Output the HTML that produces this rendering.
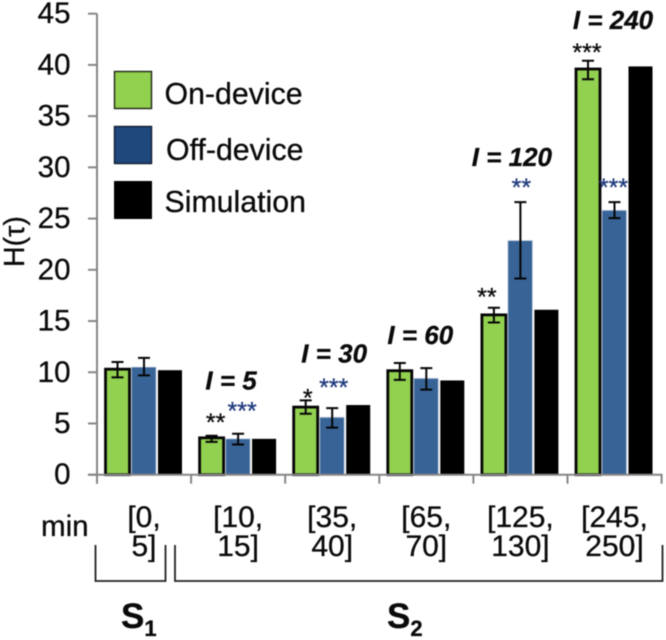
<!DOCTYPE html>
<html lang="en">
<head>
<meta charset="utf-8">
<title>H(τ) bar chart</title>
<style>
html,body{margin:0;padding:0;background:#fff;width:666px;height:640px;overflow:hidden}
svg{display:block;filter:blur(.45px)}
text{font-family:"Liberation Sans",Arial,sans-serif;fill:#0a0a0a;stroke:#0a0a0a;stroke-width:.3px}
</style>
</head>
<body>
<svg id="chart" xmlns="http://www.w3.org/2000/svg" width="666" height="640" viewBox="0 0 666 640">
  <rect width="666" height="640" fill="#fff"/>
  <text transform="translate(24,267) rotate(-90)" font-size="28.5">H(τ)</text>
  <text x="41" y="536" font-size="29.5">min</text>

  <g>
    <rect x="114.5" y="71.5" width="37" height="37" fill="#92d050" stroke="#1c2612" stroke-width="1.4"/>
    <text x="164.5" y="104" font-size="30.3">On-device</text>
    <rect x="114.5" y="126.5" width="37" height="37" fill="#1f497d" stroke="#0e1c30" stroke-width="1.4"/>
    <text x="166" y="160" font-size="30.3">Off-device</text>
    <text x="164.5" y="212" font-size="30.3">Simulation</text>
    <rect x="114" y="181" width="38" height="38" fill="#000"/>
  </g>

  <g>
    <path d="M95.5 545V581H165.5V545" fill="none" stroke="#222" stroke-width="1.8"/>
    <text x="121" y="628" font-size="35" font-weight="bold">S<tspan font-size="22" dy="8">1</tspan></text>
  </g>
  <g>
    <path d="M175 545V581H662.5V545" fill="none" stroke="#222" stroke-width="1.8"/>
    <text x="387" y="628" font-size="35" font-weight="bold">S<tspan font-size="22" dy="8">2</tspan></text>
  </g>
  <g id="plot"></g>
</svg>
<script>
const categoryLine1 = ['[0,', '[10,', '[35,', '[65,', '[125,', '[245,'];
const categoryLine2 = ['5]', '15]', '40]', '70]', '130]', '250]'];
const intervalLabels = ['', 'I = 5', 'I = 30', 'I = 60', 'I = 120', 'I = 240'];
const yTickLabels = [0, 5, 10, 15, 20, 25, 30, 35, 40, 45];
const onDevice = [10.3, 3.6, 6.6, 10.15, 15.6, 39.6];
const onDeviceHigh = [11.0, 3.8, 7.25, 10.9, 16.3, 40.4];
const onDeviceLow = [9.5, 3.2, 5.95, 9.25, 14.85, 38.6];
const offDevice = [10.5, 3.5, 5.6, 9.4, 22.85, 25.8];
const offDeviceHigh = [11.4, 4.0, 6.5, 10.4, 26.6, 26.6];
const offDeviceLow = [9.7, 2.95, 4.6, 8.3, 19.15, 25.05];
const simulation = [10.2, 3.5, 6.8, 9.2, 16.1, 39.85];
const onDeviceStars = ['', '**', '*', '', '**', '***'];
const offDeviceStars = ['', '***', '***', '', '**', '***'];

const NS = 'http://www.w3.org/2000/svg';
const plot = document.getElementById('plot');
const axisLeft = 97, groupWidth = 94.1, y0 = 474.7, unit = 10.245;
const yScale = v => y0 - v * unit;
const groupX = i => axisLeft + i * groupWidth;

function make(tag, attrs, text) {
  const el = document.createElementNS(NS, tag);
  for (const k in attrs) el.setAttribute(k, attrs[k]);
  if (text !== undefined) el.textContent = text;
  plot.appendChild(el);
  return el;
}

function drawError(x, hi, lo, group, series) {
  const line = make('path', {
    d: `M${x - 6} ${yScale(hi)}H${x + 6}M${x} ${yScale(hi)}V${yScale(lo)}M${x - 6} ${yScale(lo)}H${x + 6}`,
    fill: 'none', stroke: '#050505', 'stroke-width': 2
  });
  
  
}

onDevice.forEach((_, i) => {
  const gx = groupX(i);
  const green = make('rect', {
    x: gx + 8.5, y: yScale(onDevice[i]), width: 24, height: y0 - yScale(onDevice[i]),
    fill: '#92d050', stroke: '#050505', 'stroke-width': 2.8
  });
  
  

  const blue = make('rect', {
    x: gx + 34.5, y: yScale(offDevice[i]), width: 24.5, height: y0 - yScale(offDevice[i]),
    fill: '#386397', stroke: '#b9c8da', 'stroke-width': 0.8
  });
  
  

  const black = make('rect', {
    x: gx + 61, y: yScale(simulation[i]), width: 24, height: y0 - yScale(simulation[i]),
    fill: '#000'
  });
  
  

  drawError(gx + 20.5, onDeviceHigh[i], onDeviceLow[i], i, 'on-device');
  drawError(gx + 47, offDeviceHigh[i], offDeviceLow[i], i, 'off-device');

  const l1 = make('text', { x: gx + 47, y: 527, 'font-size': 30, 'text-anchor': 'middle' }, categoryLine1[i]);
  
  
  const l2 = make('text', { x: gx + 47, y: 556, 'font-size': 30, 'text-anchor': 'middle' }, categoryLine2[i]);
  
  

  if (onDeviceStars[i]) {
    const dx = { 1: 4, 2: 2, 4: -7, 5: -1 }[i];
    const dy = { 1: -5, 2: 6, 4: -2, 5: 0 }[i];
    const s = make('text', {
      x: gx + 20.5 + dx, y: yScale(onDeviceHigh[i]) + dy,
      'font-size': 25, 'text-anchor': 'middle'
    }, onDeviceStars[i]);
    
    
  }
  if (offDeviceStars[i]) {
    const dx = { 1: 4, 2: 1.5, 4: 1, 5: -1 }[i];
    const dy = { 1: -14, 2: -12, 4: -6, 5: -6 }[i];
    const s = make('text', {
      x: gx + 47 + dx, y: yScale(offDeviceHigh[i]) + dy,
      'font-size': 25, 'text-anchor': 'middle'
    }, offDeviceStars[i]);
    
    
    s.style.fill = '#1f3a7d';
    s.style.stroke = '#1f3a7d';
  }
  if (intervalLabels[i]) {
    const topValue = Math.max(onDeviceHigh[i], offDeviceHigh[i]);
    const lift = { 1: 44, 2: 38, 3: 19, 4: 36, 5: 32 }[i];
    const dx = { 1: 40, 2: 49, 3: 41, 4: 38.5, 5: 45.5 }[i];
    const t = make('text', {
      x: gx + dx, y: yScale(topValue) - lift,
      'font-size': 26, 'font-weight': 'bold', 'font-style': 'italic', 'text-anchor': 'middle'
    }, intervalLabels[i]);
    
    
  }
});

const yAxis = make('path', {
  d: `M${axisLeft} ${yScale(45)}V${y0 + 9}`, fill: 'none', stroke: '#868686', 'stroke-width': 2
});



const xAxis = make('path', {
  d: `M${axisLeft - 9} ${y0}H${groupX(6) + 1}`, fill: 'none', stroke: '#868686', 'stroke-width': 2
});



yTickLabels.forEach(v => {
  const tick = make('path', {
    d: `M${axisLeft - 9} ${yScale(v)}H${axisLeft}`, fill: 'none', stroke: '#868686', 'stroke-width': 2
  });
  
  
  const label = make('text', { x: 70.5, y: yScale(v) + 9.5, 'font-size': 29.5, 'text-anchor': 'end' }, String(v));
  
  
});

for (let i = 0; i <= categoryLine1.length; i++) {
  const tick = make('path', {
    d: `M${groupX(i)} ${y0}V${y0 + 9}`, fill: 'none', stroke: '#868686', 'stroke-width': 2
  });
  
  
}
</script>
</body>
</html>
